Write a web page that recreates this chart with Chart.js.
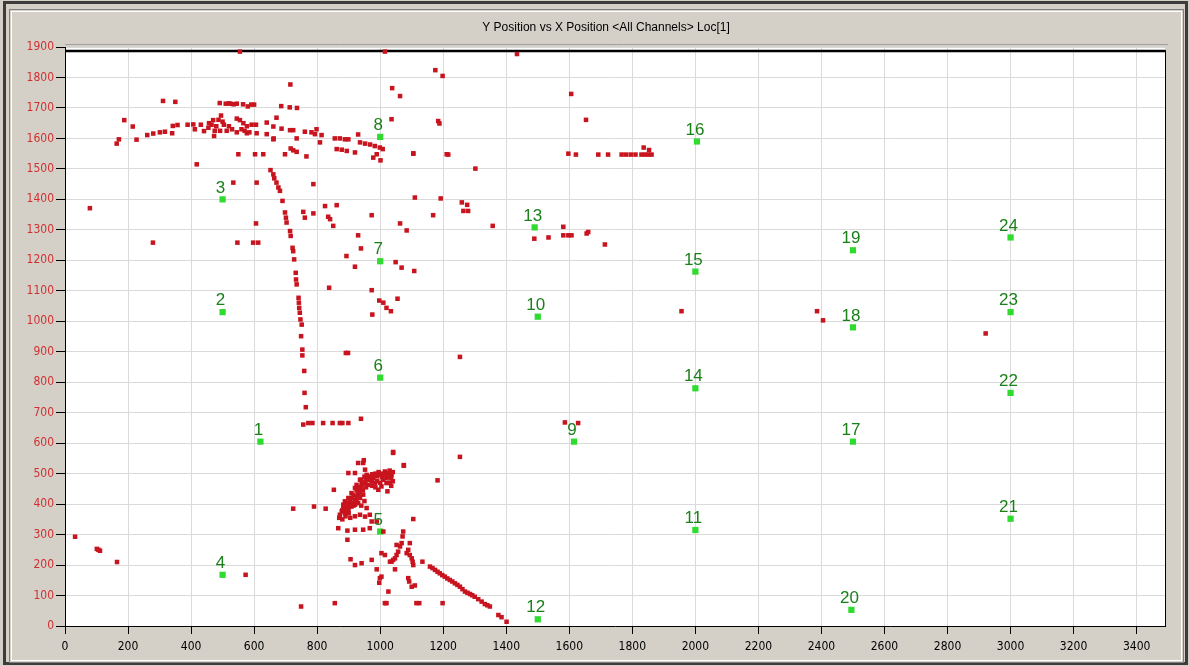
<!DOCTYPE html>
<html>
<head>
<meta charset="utf-8">
<title>Y Position vs X Position</title>
<script src="https://cdn.jsdelivr.net/npm/chart.js@4.4.1/dist/chart.umd.min.js"></script>
<style>
  html, body { margin: 0; padding: 0; background: #d4d0c8; }
  #chart { display: block; }
</style>
</head>
<body>
<canvas id="chart" width="1190" height="666"></canvas>
<script>
// 标题
const chartTitle = 'Y Position vs X Position <All Channels> Loc[1]';

// 坐标轴刻度
const xTickValues = [0, 200, 400, 600, 800, 1000, 1200, 1400, 1600, 1800, 2000, 2200, 2400, 2600, 2800, 3000, 3200, 3400];
const yTickValues = [0, 100, 200, 300, 400, 500, 600, 700, 800, 900, 1000, 1100, 1200, 1300, 1400, 1500, 1600, 1700, 1800, 1900];

// 通道位置（绿色）
const siteLabels = ['1', '2', '3', '4', '5', '6', '7', '8', '9', '10', '11', '12',
  '13', '14', '15', '16', '17', '18', '19', '20', '21', '22', '23', '24'];
const siteX = [620, 500, 500, 500, 1000, 1000, 1000, 1000, 1615, 1500, 2000, 1500,
  1490, 2000, 2000, 2005, 2500, 2500, 2500, 2495, 3000, 3000, 3000, 3000];
const siteY = [605, 1030, 1400, 168, 310, 815, 1197, 1605, 605, 1015, 315, 22,
  1308, 780, 1163, 1590, 605, 980, 1233, 53, 352, 765, 1030, 1275];

// 事件位置（红色）
const redX = [
  // 顶部
  555, 1015, 1434, 1175, 1198, 715, 1038, 1063, 1606, 1653,
  311, 350, 491, 510, 525, 545, 591, 600, 686, 713, 736,
  188, 215, 171, 164, 227, 261, 280, 301, 317, 342, 340, 357, 389, 407, 431, 412, 441, 473,
  457, 470, 487, 495, 480, 504, 492, 513, 545, 577, 608, 640, 662,
  545, 555, 566, 577, 592, 606, 640, 671, 661, 661, 687, 714, 724, 735,
  716, 724, 735, 698, 550, 603, 629, 766,
  761, 782, 798, 793, 814, 809, 856, 872, 888, 899, 930,
  862, 878, 894, 920, 936, 952, 968, 983, 999, 1008, 978, 989, 1001,
  1036, 1105, 1211, 1184, 1188, 418,
  455, 465, 475, 500, 520, 530, 560, 570, 585, 520, 535, 565, 580,
  // 弯曲轨迹
  652, 661, 664, 671, 677, 682, 690, 698, 701, 703, 714, 716, 722, 724, 727,
  732, 733, 735, 741, 742, 743, 745, 747, 751, 749, 753, 753, 759, 760, 764, 756,
  772, 785, 819, 849, 872, 880, 899, 939,
  891, 898, 1253, 1253, 1041, 1075, 1182,
  // 中部散点
  79, 279, 534, 608, 547, 597, 613, 606, 788, 756, 761, 788, 825, 835, 841, 851, 862,
  930, 939, 893, 920, 838, 973, 973, 975, 997, 1010, 1020, 1034, 1055, 1063, 1084,
  1049, 1068, 1108, 1110, 1168, 1192,
  1105, 1216, 1302, 1597, 1621, 1692, 1723, 1766, 1780, 1795, 1810, 1829, 1840, 1850, 1861, 1836, 1853,
  1259, 1276, 1264, 1279, 1357, 1489, 1534, 1581, 1581, 1597, 1607, 1655, 1660, 1713,
  1586, 1628, 1956, 2386, 2405, 2921,
  // 左下
  32, 101, 111, 106, 165, 573, 749, 856,
  // 密集区
  1015, 1026, 1036, 1020, 1010, 999, 989, 978, 967, 957, 973, 983, 962, 952, 941, 936, 930, 925,
  920, 915, 904, 893, 883, 878, 872, 888, 899, 909, 920, 930, 936, 946, 941, 925, 936, 920, 909,
  899, 888, 883, 952, 946, 920, 899, 853, 867, 896, 896, 920, 946, 967, 973, 936, 957, 967, 952,
  989, 994, 1004, 1023, 1020, 1041, 1075, 930, 948, 724, 790, 827, 1010, 1105,
  1005, 1030, 1040, 1035, 1025, 1015, 1005, 995, 985, 975, 965, 955, 945, 960, 950, 940, 1030, 1040,
  1000, 990, 930, 935, 925, 915, 910, 905, 895, 885, 880, 890, 900, 915, 925, 935, 945, 955, 900,
  890, 880, 870, 905, 920, 940, 950, 975, 985, 1035, 1020,
  // 下方团
  1073, 1071, 1068, 1063, 1057, 1052, 1047, 1041, 1036, 1031, 1052, 1094, 1089, 1094, 1100, 1103,
  1105, 1084, 1134, 906, 920, 941, 973, 989, 1004, 1015, 1047, 999, 997, 1004, 1089, 1092, 1100,
  1110, 1026, 1015, 1020, 1115, 1124, 1198,
  // 斜线
  1158, 1166, 1174, 1182, 1189, 1197, 1205, 1213, 1221, 1229, 1237, 1245, 1253, 1261, 1269, 1277,
  1285, 1292, 1300, 1311, 1322, 1332, 1340, 1348, 1375, 1385, 1401
];
const redY = [
  // 顶部
  1885, 1885, 1877, 1824, 1805, 1777, 1765, 1739, 1746, 1661,
  1723, 1720, 1716, 1714, 1714, 1714, 1711, 1711, 1706, 1702, 1700,
  1660, 1639, 1597, 1583, 1596, 1611, 1616, 1620, 1622, 1641, 1617, 1644, 1645, 1646, 1645, 1630, 1624, 1608,
  1650, 1660, 1661, 1675, 1640, 1645, 1625, 1625, 1620, 1617, 1617, 1614, 1600,
  1665, 1660, 1650, 1640, 1645, 1645, 1652, 1668, 1639, 1597, 1632, 1627, 1627, 1600,
  1567, 1561, 1556, 1548, 1548, 1548, 1548, 1541,
  1622, 1620, 1630, 1614, 1611, 1587, 1600, 1600, 1597, 1597, 1613,
  1565, 1563, 1559, 1554, 1587, 1583, 1580, 1575, 1570, 1565, 1537, 1548, 1528,
  1663, 1551, 1548, 1657, 1649, 1515,
  1635, 1645, 1625, 1655, 1640, 1630, 1630, 1625, 1620, 1715, 1712, 1712, 1705,
  // 弯曲轨迹
  1496, 1482, 1469, 1455, 1439, 1428, 1395, 1357, 1340, 1324, 1296, 1280, 1241, 1230, 1203,
  1159, 1137, 1121, 1077, 1061, 1044, 1028, 1006, 989, 951, 907, 888, 837, 765, 718, 661,
  666, 666, 666, 666, 666, 666, 666, 680,
  896, 896, 883, 555, 568, 526, 478,
  // 中部散点
  1371, 1258, 1455, 1455, 1258, 1258, 1258, 1321, 1450, 1359, 1340, 1354, 1378, 1343, 1335, 1313, 1381,
  1282, 1239, 1214, 1179, 1110, 1348, 1102, 1022, 1068, 1061, 1044, 1033, 1074, 1321, 1298,
  1194, 1176, 1165, 1406, 1348, 1403,
  1550, 1547, 1501, 1550, 1547, 1547, 1547, 1547, 1547, 1547, 1547, 1547, 1547, 1547, 1547, 1570, 1562,
  1390, 1382, 1362, 1362, 1313, 1271, 1275, 1310, 1282, 1282, 1282, 1288, 1293, 1252,
  668, 666, 1033, 1033, 1003, 960,
  // 左下
  293, 253, 247, 250, 210, 168, 64, 75,
  // 密集区
  507, 502, 496, 485, 480, 496, 491, 485, 491, 496, 474, 469, 463, 469, 458, 447, 436, 425,
  414, 403, 398, 392, 387, 376, 365, 370, 381, 392, 398, 403, 420, 431, 469, 463, 480, 453, 436,
  420, 409, 398, 513, 535, 502, 502, 447, 321, 313, 283, 316, 316, 321, 343, 365, 387, 365, 359,
  343, 447, 458, 442, 469, 571, 528, 535, 544, 385, 392, 385, 310, 351,
  500, 510, 505, 485, 490, 495, 488, 505, 500, 498, 480, 478, 470, 490, 490, 480, 470, 475,
  470, 475, 455, 440, 445, 430, 420, 410, 405, 395, 380, 380, 390, 395, 410, 425, 445, 455, 370,
  360, 350, 355, 355, 360, 395, 410, 460, 455, 460, 500,
  // 下方团
  310, 294, 272, 261, 244, 233, 222, 217, 211, 211, 266, 272, 250, 233, 222, 211,
  200, 239, 211, 219, 200, 206, 217, 186, 239, 233, 186, 157, 142, 162, 157, 146, 129,
  133, 113, 75, 75, 75, 75, 75,
  // 斜线
  195, 190, 184, 178, 173, 167, 162, 156, 151, 146, 140, 135, 129, 121, 113, 109,
  105, 101, 96, 88, 80, 72, 68, 64, 36, 29, 14
];

const redPoints = redX.map((x, i) => ({ x: x, y: redY[i] }));
const sitePoints = siteX.map((x, i) => ({ x: x, y: siteY[i] }));

// 边框和标题
const framePlugin = {
  id: 'frame',
  beforeDraw(chart) {
    const ctx = chart.ctx;
    const a = chart.chartArea;
    ctx.save();
    ctx.fillStyle = '#d4d0c8';
    ctx.fillRect(0, 0, chart.width, chart.height);
    ctx.lineWidth = 3;
    ctx.strokeStyle = '#3c3c3c';
    ctx.strokeRect(4.5, 2.5, 1182, 661);
    ctx.lineWidth = 1;
    ctx.strokeStyle = '#808080';
    ctx.strokeRect(9.5, 9.5, 1174, 653);
    ctx.strokeStyle = '#ffffff';
    ctx.strokeRect(11.5, 11.5, 1170, 649);
    // 标题
    ctx.fillStyle = '#000';
    ctx.font = '12px "Liberation Sans", Arial, sans-serif';
    ctx.textAlign = 'center';
    ctx.textBaseline = 'middle';
    ctx.fillText(chartTitle, 606, 28);
    // 绘图区
    ctx.fillStyle = '#ffffff';
    ctx.fillRect(a.left, a.top, a.right - a.left, a.bottom - a.top);
    ctx.restore();
  },
  beforeDatasetsDraw(chart) {
    const ctx = chart.ctx;
    const a = chart.chartArea;
    ctx.save();
    ctx.strokeStyle = '#a0a0a0';
    ctx.lineWidth = 1;
    ctx.beginPath();
    ctx.moveTo(a.left, 44.5);
    ctx.lineTo(a.right + 3, 44.5);
    ctx.stroke();
    ctx.strokeStyle = '#000';
    ctx.lineWidth = 2.5;
    ctx.beginPath();
    ctx.moveTo(a.left, a.top + 4);
    ctx.lineTo(a.right, a.top + 4);
    ctx.stroke();
    ctx.lineWidth = 1;
    ctx.beginPath();
    ctx.moveTo(a.right + 0.5, a.top + 3);
    ctx.lineTo(a.right + 0.5, a.bottom);
    ctx.stroke();
    ctx.restore();
  }
};

// 通道编号
const siteLabelPlugin = {
  id: 'siteLabels',
  afterDatasetsDraw(chart) {
    const ctx = chart.ctx;
    const meta = chart.getDatasetMeta(1);
    ctx.save();
    ctx.fillStyle = '#1a801a';
    ctx.font = '17px "Liberation Sans", Arial, sans-serif';
    ctx.textAlign = 'center';
    ctx.textBaseline = 'bottom';
    meta.data.forEach((pt, i) => {
      ctx.fillText(siteLabels[i], pt.x - 2, pt.y - 3);
    });
    ctx.restore();
  }
};

const tickFont = { family: '"Liberation Sans Narrow", "DejaVu Sans Condensed", Arial, sans-serif', size: 12 };
const plainTick = (value) => String(value);

new Chart(document.getElementById('chart'), {
  type: 'scatter',
  data: {
    datasets: [{
      label: 'events',
      data: redPoints,
      pointStyle: 'rect',
      pointRadius: 3.2,
      pointBackgroundColor: '#c8141e',
      pointBorderWidth: 0
    }, {
      label: 'sites',
      data: sitePoints,
      pointStyle: 'rect',
      pointRadius: 4.4,
      pointBackgroundColor: '#2edb2e',
      pointBorderWidth: 0
    }]
  },
  options: {
    responsive: false,
    animation: false,
    devicePixelRatio: 1,
    layout: { padding: { left: 10, top: 47, right: 25, bottom: 0 } },
    plugins: {
      legend: { display: false },
      tooltip: { enabled: false }
    },
    scales: {
      x: {
        type: 'linear',
        min: 0,
        max: 3490,
        afterBuildTicks: (scale) => { scale.ticks = xTickValues.map(v => ({ value: v })); },
        afterFit: (scale) => { scale.height = 40; },
        border: { display: true, color: '#000', width: 1 },
        grid: { color: '#dadada', tickColor: '#000', tickLength: 8 },
        ticks: { color: '#000', font: tickFont, padding: 6, maxRotation: 0, autoSkip: false, callback: plainTick }
      },
      y: {
        type: 'linear',
        min: 0,
        max: 1900,
        afterBuildTicks: (scale) => { scale.ticks = yTickValues.map(v => ({ value: v })); },
        afterFit: (scale) => { scale.width = 55; },
        border: { display: true, color: '#000', width: 1 },
        grid: { color: '#dadada', tickColor: '#000', tickLength: 9 },
        ticks: { color: '#d03030', font: tickFont, padding: 2, autoSkip: false, callback: plainTick }
      }
    }
  },
  plugins: [framePlugin, siteLabelPlugin]
});
</script>
</body>
</html>
